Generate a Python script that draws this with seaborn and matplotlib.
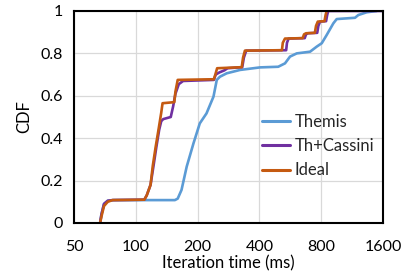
import pandas as pd
import matplotlib
matplotlib.use("Agg")
import matplotlib.pyplot as plt
from matplotlib.ticker import FixedLocator, FixedFormatter, NullLocator
import seaborn as sns

# data (iteration time in ms, CDF)
themis_x = [67, 68, 70, 73, 78, 155, 160, 167, 177, 191, 205, 221, 239, 248, 257, 277,
            322, 403, 494, 533, 564, 608, 706, 761, 805, 851, 917, 952, 1169, 1213, 1333, 1491]
themis_y = [0, 0.04, 0.09, 0.105, 0.108, 0.108, 0.115, 0.156, 0.266, 0.376, 0.47, 0.517, 0.596, 0.675, 0.69, 0.706,
            0.722, 0.734, 0.737, 0.753, 0.785, 0.80, 0.808, 0.832, 0.848, 0.887, 0.942, 0.962, 0.968, 0.981, 0.994, 1.0]

cassini_x = [67, 68, 70, 73, 77, 110, 113, 118, 122, 126, 130, 133, 136, 148, 152, 156, 162, 170,
             240, 245, 255, 270, 280, 330, 336, 345, 540, 545, 555, 665, 675, 690, 765, 775, 790,
             845, 855, 865, 1600]
cassini_y = [0, 0.04, 0.09, 0.105, 0.108, 0.11, 0.13, 0.18, 0.27, 0.36, 0.44, 0.48, 0.49, 0.50, 0.55, 0.61, 0.655, 0.67,
             0.675, 0.70, 0.71, 0.72, 0.73, 0.735, 0.78, 0.813, 0.815, 0.85, 0.87, 0.872, 0.89, 0.895, 0.897, 0.93, 0.95,
             0.952, 0.98, 1.0, 1.0]

ideal_x = [67, 68, 70, 73, 77, 110, 113, 118, 121, 125, 129, 133, 135, 154, 156, 160,
           240, 244, 249, 328, 333, 340, 515, 520, 533, 650, 660, 675, 745, 755, 770, 830, 840, 850]
ideal_y = [0, 0.03, 0.08, 0.10, 0.108, 0.11, 0.13, 0.18, 0.27, 0.36, 0.44, 0.52, 0.565, 0.57, 0.62, 0.675,
           0.678, 0.70, 0.73, 0.735, 0.78, 0.813, 0.815, 0.85, 0.87, 0.872, 0.89, 0.895, 0.897, 0.93, 0.95, 0.952, 0.98, 1.0]

series = ["Themis", "Th+Cassini", "Ideal"]
colors = ["#5B9BD5", "#7030A0", "#C55A11"]
x_ticks = [50, 100, 200, 400, 800, 1600]
y_ticks = [0, 0.2, 0.4, 0.6, 0.8, 1]

df = pd.concat([
    pd.DataFrame({"time": themis_x, "cdf": themis_y, "method": "Themis"}),
    pd.DataFrame({"time": cassini_x, "cdf": cassini_y, "method": "Th+Cassini"}),
    pd.DataFrame({"time": ideal_x, "cdf": ideal_y, "method": "Ideal"}),
])

sns.set_theme(style="whitegrid")
plt.rcParams["font.family"] = ["Lato", "DejaVu Sans"]

fig = plt.figure(figsize=(4.12, 2.79), dpi=100)
ax = fig.add_axes([74 / 412, 1 - 223 / 279, 309 / 412, 212 / 279])

sns.lineplot(data=df, x="time", y="cdf", hue="method", hue_order=series,
             palette=colors, estimator=None, sort=False, linewidth=1.9, ax=ax, legend=False)

ax.set_xscale("log")
ax.set_xlim(50, 1600)
ax.set_ylim(0, 1)
ax.xaxis.set_major_locator(FixedLocator(x_ticks))
ax.xaxis.set_major_formatter(FixedFormatter([str(t) for t in x_ticks]))
ax.xaxis.set_minor_locator(NullLocator())
ax.yaxis.set_major_locator(FixedLocator(y_ticks))
ax.yaxis.set_major_formatter(FixedFormatter(["0", "0.2", "0.4", "0.6", "0.8", "1"]))

ax.set_facecolor("white")
ax.grid(True, color="#D9D9D9", linewidth=0.9)
for s in ax.spines.values():
    s.set_color("black")
    s.set_linewidth(1.5)
ax.tick_params(axis="both", direction="in", length=4, width=1.5, color="black",
               labelsize=11.5, labelcolor="black")
ax.tick_params(axis="x", pad=12.5)
ax.tick_params(axis="y", pad=8)

ax.set_xlabel("Iteration time (ms)", fontsize=12, color="black", labelpad=1)
ax.set_ylabel("CDF", fontsize=12, color="black", labelpad=6)

handles = [plt.Line2D([], [], color=c, linewidth=2.2) for c in colors]
ax.legend(handles, series, loc="upper left", bbox_to_anchor=(0.608, 0.515),
          frameon=False, fontsize=12, borderpad=0, borderaxespad=0,
          handlelength=1.7, handletextpad=0.25, labelspacing=0.5)

fig.savefig("out.png", dpi=100)
